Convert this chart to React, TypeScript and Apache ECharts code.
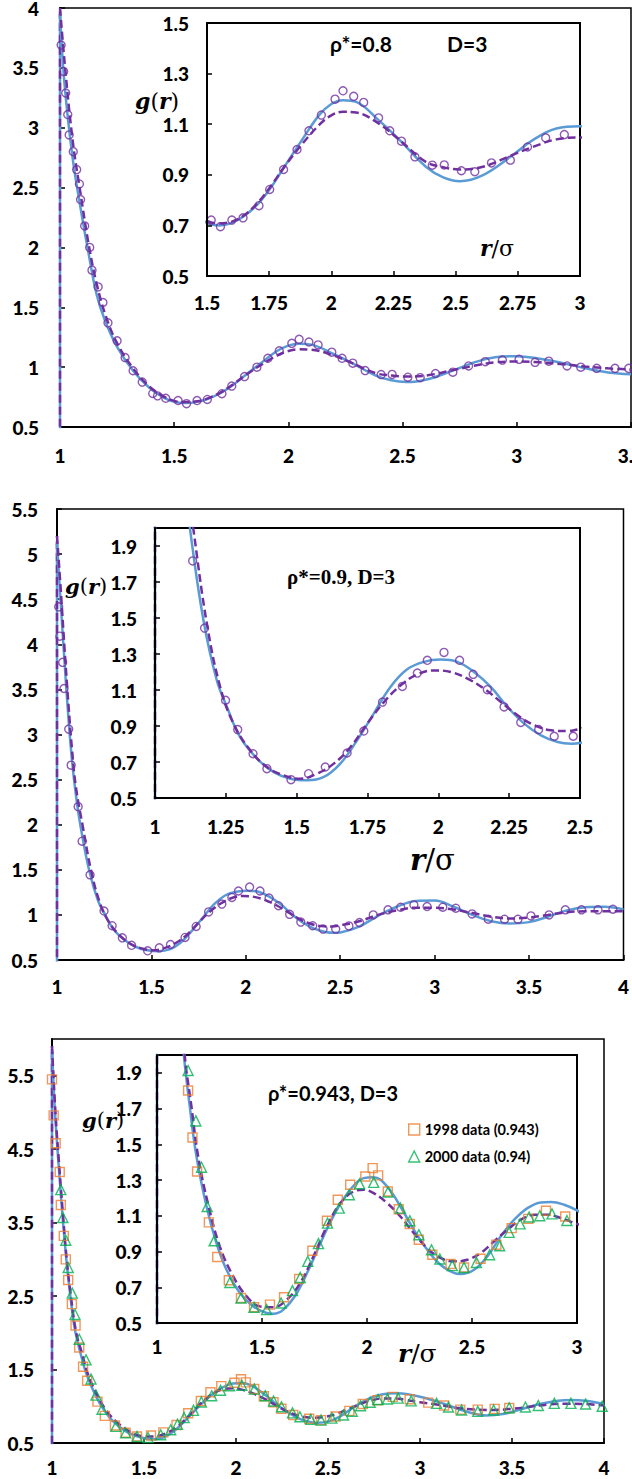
import React, { useEffect, useRef } from "react";
import * as echarts from "echarts";

// ---------- Panel 1 : rho* = 0.8 ----------
const P1_SIM: number[][] = [
  [1.005, 3.69], [1.016, 3.47], [1.025, 3.29], [1.034, 3.11], [1.04, 2.94], [1.058, 2.8], [1.073, 2.65],
  [1.085, 2.53], [1.09, 2.4], [1.108, 2.18], [1.13, 2.0], [1.14, 1.81], [1.167, 1.67], [1.188, 1.54],
  [1.21, 1.37], [1.25, 1.22], [1.285, 1.08], [1.32, 0.97], [1.36, 0.875], [1.406, 0.78], [1.427, 0.76],
  [1.463, 0.74], [1.517, 0.721], [1.554, 0.695], [1.6, 0.721], [1.645, 0.73], [1.709, 0.778], [1.752, 0.842],
  [1.808, 0.921], [1.862, 1.0], [1.91, 1.074], [1.96, 1.136], [2.015, 1.199], [2.047, 1.232], [2.09, 1.21],
  [2.13, 1.186], [2.19, 1.125], [2.235, 1.074], [2.282, 1.033], [2.336, 0.971], [2.406, 0.938], [2.454, 0.939],
  [2.523, 0.916], [2.577, 0.912], [2.644, 0.947], [2.72, 0.958], [2.789, 1.01], [2.862, 1.046], [2.937, 1.059],
  [3.01, 1.065], [3.08, 1.04], [3.14, 1.05], [3.22, 1.01], [3.28, 1.0], [3.35, 0.99], [3.43, 0.99], [3.49, 0.99],
];
const P1_THEORY: number[][] = [
  [1.0, 3.95], [1.02, 3.36], [1.055, 2.75], [1.09, 2.33], [1.126, 1.94], [1.16, 1.61], [1.197, 1.39], [1.25, 1.17],
  [1.32, 0.97], [1.39, 0.83], [1.45, 0.75], [1.5, 0.71], [1.55, 0.7], [1.6, 0.71], [1.645, 0.734], [1.7, 0.78],
  [1.75, 0.84], [1.81, 0.93], [1.873, 1.024], [1.95, 1.135], [2.0, 1.18], [2.047, 1.195], [2.1, 1.188],
  [2.19, 1.116], [2.275, 1.037], [2.38, 0.932], [2.45, 0.89], [2.517, 0.875], [2.61, 0.899], [2.72, 0.971],
  [2.81, 1.037], [2.905, 1.083], [3.0, 1.092], [3.1, 1.07], [3.2, 1.035], [3.3, 0.99], [3.4, 0.955], [3.5, 0.94],
];
const P1_APPROX: number[][] = [
  [1.0, 4.0], [1.02, 3.55], [1.055, 2.9], [1.09, 2.45], [1.126, 2.02], [1.16, 1.7], [1.2, 1.43], [1.25, 1.2],
  [1.32, 0.99], [1.39, 0.84], [1.45, 0.76], [1.5, 0.718], [1.55, 0.708], [1.6, 0.715], [1.645, 0.737], [1.7, 0.785],
  [1.75, 0.846], [1.81, 0.93], [1.873, 1.01], [1.95, 1.096], [2.0, 1.135], [2.047, 1.149], [2.1, 1.146],
  [2.19, 1.103], [2.275, 1.037], [2.38, 0.951], [2.45, 0.93], [2.517, 0.921], [2.61, 0.932], [2.72, 0.975],
  [2.81, 1.01], [2.905, 1.04], [3.0, 1.047], [3.1, 1.04], [3.2, 1.025], [3.3, 1.005], [3.4, 0.99], [3.5, 0.98],
];

// ---------- Panel 2 : rho* = 0.9 ----------
const P2_SIM: number[][] = [
  [1.009, 4.415], [1.015, 4.09], [1.03, 3.8], [1.037, 3.51], [1.062, 3.06], [1.075, 2.66], [1.112, 2.2],
  [1.133, 1.817], [1.175, 1.444], [1.249, 1.043], [1.292, 0.88], [1.346, 0.746], [1.395, 0.663], [1.48, 0.602],
  [1.542, 0.635], [1.601, 0.672], [1.678, 0.75], [1.737, 0.872], [1.803, 1.033], [1.873, 1.12], [1.926, 1.194],
  [1.961, 1.265], [2.02, 1.309], [2.075, 1.265], [2.123, 1.187], [2.173, 1.102], [2.232, 1.006], [2.291, 0.92],
  [2.354, 0.88], [2.409, 0.843], [2.476, 0.843], [2.546, 0.878], [2.602, 0.915], [2.675, 1.0], [2.753, 1.056],
  [2.82, 1.085], [2.89, 1.111], [2.96, 1.093], [3.043, 1.085], [3.112, 1.074], [3.198, 1.011], [3.284, 0.952],
  [3.37, 0.952], [3.441, 0.952], [3.51, 0.989], [3.606, 1.0], [3.692, 1.056], [3.778, 1.056], [3.865, 1.056],
  [3.944, 1.063],
];
const P2_THEORY: number[][] = [
  [1.0, 5.12], [1.02, 4.45], [1.04, 3.8], [1.06, 3.2], [1.08, 2.7], [1.1, 2.33], [1.124, 1.99], [1.171, 1.487],
  [1.218, 1.154], [1.254, 1.006], [1.3, 0.839], [1.36, 0.719], [1.419, 0.644], [1.478, 0.607], [1.537, 0.598],
  [1.596, 0.617], [1.654, 0.691], [1.713, 0.82], [1.772, 0.969], [1.831, 1.117], [1.89, 1.215], [1.949, 1.256],
  [2.008, 1.269], [2.067, 1.256], [2.126, 1.2], [2.185, 1.117], [2.244, 1.006], [2.303, 0.913], [2.362, 0.848],
  [2.421, 0.811], [2.47, 0.802], [2.5, 0.806], [2.6, 0.87], [2.7, 0.99], [2.8, 1.09], [2.9, 1.155], [3.0, 1.16],
  [3.1, 1.09], [3.2, 1.0], [3.3, 0.93], [3.4, 0.905], [3.5, 0.92], [3.6, 0.98], [3.7, 1.05], [3.8, 1.085],
  [3.9, 1.09], [4.0, 1.06],
];
const P2_APPROX: number[][] = [
  [1.0, 5.2], [1.02, 4.6], [1.04, 3.95], [1.06, 3.35], [1.08, 2.82], [1.1, 2.42], [1.136, 1.987], [1.183, 1.469],
  [1.23, 1.117], [1.277, 0.913], [1.336, 0.765], [1.395, 0.672], [1.454, 0.626], [1.513, 0.607], [1.572, 0.635],
  [1.631, 0.691], [1.69, 0.783], [1.749, 0.913], [1.808, 1.033], [1.867, 1.126], [1.926, 1.187], [1.985, 1.209],
  [2.044, 1.2], [2.103, 1.163], [2.162, 1.107], [2.221, 1.033], [2.28, 0.959], [2.339, 0.904], [2.398, 0.876],
  [2.456, 0.872], [2.5, 0.885], [2.6, 0.93], [2.7, 1.0], [2.8, 1.05], [2.9, 1.08], [3.0, 1.08], [3.1, 1.06],
  [3.2, 1.02], [3.3, 0.98], [3.4, 0.96], [3.5, 0.97], [3.6, 1.0], [3.7, 1.03], [3.8, 1.04], [3.9, 1.04], [4.0, 1.04],
];

// ---------- Panel 3 : rho* = 0.943 ----------
const P3_DATA_1998: number[][] = [
  [1.0, 5.45], [1.009, 4.96], [1.02, 4.58], [1.042, 4.19], [1.048, 3.74], [1.064, 3.32], [1.075, 3.0],
  [1.088, 2.72], [1.108, 2.39], [1.128, 2.1], [1.148, 1.801], [1.169, 1.538], [1.191, 1.348], [1.247, 1.063],
  [1.287, 0.869], [1.342, 0.739], [1.4, 0.64], [1.462, 0.588], [1.538, 0.603], [1.605, 0.644], [1.677, 0.746],
  [1.74, 0.904], [1.809, 1.072], [1.861, 1.19], [1.92, 1.274], [1.992, 1.32], [2.027, 1.367], [2.053, 1.326],
  [2.099, 1.236], [2.151, 1.137], [2.204, 1.054], [2.247, 0.966], [2.311, 0.882], [2.398, 0.83], [2.462, 0.811],
  [2.541, 0.86], [2.616, 0.938], [2.689, 1.031], [2.768, 1.083], [2.852, 1.128], [2.944, 1.096], [3.045, 1.05],
  [3.131, 1.01], [3.219, 0.955], [3.314, 0.955], [3.406, 0.964], [3.485, 0.977],
];
const P3_DATA_2000: number[][] = [
  [1.048, 3.95], [1.059, 3.57], [1.075, 3.26], [1.088, 2.89], [1.11, 2.54], [1.125, 2.25], [1.148, 1.913],
  [1.185, 1.631], [1.212, 1.372], [1.239, 1.152], [1.272, 0.96], [1.347, 0.727], [1.4, 0.64], [1.462, 0.588],
  [1.522, 0.575], [1.591, 0.612], [1.645, 0.681], [1.682, 0.755], [1.718, 0.845], [1.769, 0.944], [1.812, 1.059],
  [1.868, 1.143], [1.916, 1.218], [1.965, 1.279], [2.032, 1.287], [2.1, 1.233], [2.159, 1.143], [2.204, 1.072],
  [2.247, 0.994], [2.307, 0.91], [2.347, 0.858], [2.406, 0.821], [2.462, 0.811], [2.521, 0.839], [2.584, 0.882],
  [2.632, 0.932], [2.677, 1.007], [2.729, 1.055], [2.772, 1.093], [2.823, 1.1], [2.881, 1.111], [2.952, 1.074],
  [3.09, 1.04], [3.155, 0.99], [3.226, 0.95], [3.314, 0.93], [3.4, 0.95], [3.485, 0.98], [3.573, 0.99],
  [3.643, 1.01], [3.73, 1.04], [3.82, 1.04], [3.9, 1.03], [3.99, 1.0],
];
const P3_THEORY: number[][] = [
  [1.0, 5.86], [1.01, 5.3], [1.02, 4.85], [1.04, 4.15], [1.06, 3.5], [1.08, 2.95], [1.1, 2.5], [1.124, 2.05],
  [1.156, 1.712], [1.188, 1.432], [1.236, 1.152], [1.283, 0.947], [1.331, 0.798], [1.395, 0.668], [1.459, 0.593],
  [1.522, 0.556], [1.554, 0.552], [1.602, 0.575], [1.666, 0.668], [1.729, 0.817], [1.793, 0.985], [1.857, 1.134],
  [1.92, 1.246], [1.984, 1.311], [2.032, 1.316], [2.096, 1.264], [2.159, 1.152], [2.223, 1.022], [2.287, 0.91],
  [2.35, 0.826], [2.414, 0.78], [2.446, 0.774], [2.51, 0.798], [2.573, 0.873], [2.637, 0.985], [2.701, 1.078],
  [2.764, 1.143], [2.828, 1.175], [2.876, 1.177], [2.939, 1.162], [3.0, 1.13], [3.1, 1.06], [3.2, 0.97],
  [3.3, 0.895], [3.36, 0.875], [3.45, 0.895], [3.55, 0.96], [3.65, 1.03], [3.75, 1.075], [3.82, 1.085],
  [3.9, 1.075], [4.0, 1.03],
];
const P3_APPROX: number[][] = [
  [1.0, 5.9], [1.02, 4.95], [1.04, 4.25], [1.06, 3.6], [1.08, 3.0], [1.1, 2.55], [1.132, 2.0], [1.164, 1.712],
  [1.196, 1.432], [1.244, 1.162], [1.299, 0.929], [1.363, 0.761], [1.427, 0.649], [1.49, 0.593], [1.554, 0.588],
  [1.618, 0.63], [1.682, 0.724], [1.745, 0.873], [1.809, 1.041], [1.873, 1.171], [1.936, 1.236], [1.984, 1.246],
  [2.032, 1.227], [2.096, 1.171], [2.159, 1.096], [2.223, 1.003], [2.287, 0.919], [2.35, 0.864], [2.414, 0.845],
  [2.478, 0.854], [2.541, 0.891], [2.605, 0.957], [2.669, 1.022], [2.732, 1.078], [2.796, 1.106], [2.86, 1.106],
  [2.924, 1.087], [3.0, 1.055], [3.1, 1.02], [3.2, 0.98], [3.3, 0.955], [3.4, 0.95], [3.5, 0.965], [3.6, 0.995],
  [3.7, 1.025], [3.8, 1.035], [3.9, 1.03], [4.0, 1.01],
];

// g(r) = 0 inside the core (r < sigma): the curves rise from this value at contact
const CORE_VALUE = 0;

// axis ranges [min, max, interval] : main & inset for each panel
const P1_MAIN_X = [1, 3.5, 0.5];
const P1_MAIN_Y = [0.5, 4, 0.5];
const P1_INSET_X = [1.5, 3, 0.25];
const P1_INSET_Y = [0.5, 1.5, 0.2];
const P2_MAIN_X = [1, 4, 0.5];
const P2_MAIN_Y = [0.5, 5.5, 0.5];
const P2_INSET_X = [1, 2.5, 0.25];
const P2_INSET_Y = [0.5, 2.0, 0.2];
const P3_MAIN_X = [1, 4, 0.5];
const P3_MAIN_Y = [0.5, 6.0, 1];
const P3_INSET_X = [1, 3, 0.5];
const P3_INSET_Y = [0.5, 2.0, 0.2];

const LEGEND_1998 = "1998 data (0.943)";
const LEGEND_2000 = "2000 data (0.94)";

const BLUE = "#5B9BD5";
const PURPLE = "#7030A0";
const ORANGE = "#ED7D31";
const GREEN = "#00B050";
const SANS = 'Lato, "Open Sans", "DejaVu Sans", sans-serif';
const SERIF = '"DejaVu Serif", "Liberation Serif", serif';
const TICK_FONT = 19;
const TICK_WEIGHT = 900;

function axis(gi: number, r: number[], margin: number, showMax: boolean, z: number, extra: any = {}) {
  return {
    type: "value", gridIndex: gi, min: r[0], max: r[1], interval: r[2], z,
    axisLine: { show: true, onZero: false, lineStyle: { color: "#000", width: 2 } },
    axisTick: { show: true, inside: true, length: 5, lineStyle: { color: "#000", width: 1.5 } },
    axisLabel: { margin, color: "#000", fontFamily: SANS, fontWeight: TICK_WEIGHT, fontSize: TICK_FONT, showMaxLabel: showMax, ...extra },
    splitLine: { show: false },
  };
}

function line(gi: number, data: number[][], color: string, dashed: boolean, z: number) {
  return {
    type: "line", xAxisIndex: gi, yAxisIndex: gi, data, showSymbol: false, symbol: "none",
    smooth: 0.4, z, silent: true,
    lineStyle: { color, width: 2.5, type: dashed ? [8, 4] : "solid" },
  };
}
function wall(gi: number, data: number[][], color: string, dashed: boolean, z: number) {
  const first = data[0];
  return {
    type: "line", xAxisIndex: gi, yAxisIndex: gi, showSymbol: false, symbol: "none", z, silent: true,
    data: [[first[0], CORE_VALUE], [first[0], first[1]]],
    lineStyle: { color, width: 2.5, type: dashed ? [8, 4] : "solid" },
  };
}
function scatter(gi: number, data: number[][], symbol: string, size: number, color: string, z: number, name?: string) {
  return {
    type: "scatter", name, xAxisIndex: gi, yAxisIndex: gi, data, symbol, symbolSize: size, z, silent: true,
    itemStyle: { color: "rgba(255,255,255,0)", borderColor: color, borderWidth: 1.4 },
  };
}

function panelSeries(giMain: number, giInset: number, theory: number[][], approx: number[][], scat: any[]) {
  const out: any[] = [];
  [giMain, giInset].forEach((gi, k) => {
    const base = k === 0 ? 2 : 12;
    out.push(wall(gi, theory, BLUE, false, base));
    out.push(wall(gi, approx, PURPLE, true, base + 1));
    out.push(line(gi, theory, BLUE, false, base + 2));
    out.push(line(gi, approx, PURPLE, true, base + 3));
    scat.forEach((s) => out.push(scatter(gi, s.data, s.symbol, s.size, s.color, base + 4, s.name)));
  });
  return out;
}

function txt(x: number, y: number, text: string, font: string) {
  return {
    type: "text", x, y, z: 100,
    style: { text, font, fill: "#000", verticalAlign: "middle", align: "left" },
  };
}
function rich(x: number, y: number, text: string, size: number) {
  return {
    type: "text", x, y, z: 100,
    style: {
      text, verticalAlign: "middle", align: "left",
      rich: {
        i: { fontFamily: SERIF, fontStyle: "italic", fontWeight: "bold", fontSize: size, fill: "#000", color: "#000" },
        n: { fontFamily: SERIF, fontWeight: "normal", fontSize: size, fill: "#000", color: "#000" },
      },
    },
  };
}
const G_OF_R = "{i|g}{n|(}{i|r}{n|)}";
const R_SIGMA = "{i|r}{n|/σ}";

export default function App() {
  const ref = useRef<HTMLDivElement>(null);
  useEffect(() => {
    if (!ref.current) return;
    const chart = echarts.init(ref.current, undefined, { renderer: "svg" });
    const mainGrid = { show: true, borderColor: "#000", borderWidth: 1.5, backgroundColor: "rgba(0,0,0,0)" };
    const insetGrid = { show: true, borderColor: "#000", borderWidth: 2, backgroundColor: "#fff", z: 8 };
    const option: any = {
      animation: false,
      backgroundColor: "#fff",
      grid: [
        { left: 60, top: 8, width: 571, height: 419, ...mainGrid, outerBoundsMode: "none" },
        { left: 207, top: 23, width: 373, height: 253, ...insetGrid },
        { left: 57, top: 509, width: 571, height: 451, ...mainGrid },
        { left: 155, top: 528, width: 425, height: 270, ...insetGrid },
        { left: 52, top: 1039, width: 552, height: 404, ...mainGrid },
        { left: 157, top: 1055, width: 420, height: 268, ...insetGrid },
      ],
      xAxis: [
        axis(0, P1_MAIN_X, 19, true, 1, { alignMaxLabel: "center" }),
        axis(1, P1_INSET_X, 17, true, 20),
        axis(2, P2_MAIN_X, 17, true, 1),
        axis(3, P2_INSET_X, 19, true, 20),
        axis(4, P3_MAIN_X, 15, true, 1),
        axis(5, P3_INSET_X, 14, true, 20),
      ],
      yAxis: [
        axis(0, P1_MAIN_Y, 21, true, 1),
        axis(1, P1_INSET_Y, 18, true, 20),
        axis(2, P2_MAIN_Y, 19, true, 1),
        axis(3, P2_INSET_Y, 18, false, 20),
        axis(4, P3_MAIN_Y, 18, false, 1),
        axis(5, P3_INSET_Y, 15, false, 20),
      ],
      legend: {
        data: [
          { name: LEGEND_1998, icon: "rect", itemStyle: { color: "rgba(255,255,255,0)", borderColor: ORANGE, borderWidth: 1.4 } },
          { name: LEGEND_2000, icon: "triangle", itemStyle: { color: "rgba(255,255,255,0)", borderColor: GREEN, borderWidth: 1.4 } },
        ],
        orient: "vertical", left: 408, top: 1122, itemGap: 12, itemWidth: 11, itemHeight: 11, padding: 0, z: 50,
        selectedMode: false,
        textStyle: { fontFamily: SANS, fontWeight: "bold", fontSize: 14.5, color: "#000" },
      },
      graphic: [
        txt(330, 43, "ρ*=0.8", `bold 21px ${SANS}`),
        txt(447, 43, "D=3", `bold 21px ${SANS}`),
        rich(135, 101, G_OF_R, 22),
        rich(480, 248, R_SIGMA, 22),
        txt(287, 577, "ρ*=0.9, D=3", `bold 21px "Liberation Serif", serif`),
        rich(65, 586, G_OF_R, 21),
        rich(410, 860, R_SIGMA, 29),
        txt(268, 1093, "ρ*=0.943, D=3", `bold 20px ${SANS}`),
        rich(82, 1120, G_OF_R, 21),
        rich(398, 1353, R_SIGMA, 25),
      ],
      series: [
        ...panelSeries(0, 1, P1_THEORY, P1_APPROX, [{ data: P1_SIM, symbol: "circle", size: 8, color: PURPLE }]),
        ...panelSeries(2, 3, P2_THEORY, P2_APPROX, [{ data: P2_SIM, symbol: "circle", size: 8, color: PURPLE }]),
        ...panelSeries(4, 5, P3_THEORY, P3_APPROX, [
          { data: P3_DATA_1998, symbol: "rect", size: 9, color: ORANGE, name: LEGEND_1998 },
          { data: P3_DATA_2000, symbol: "triangle", size: 10, color: GREEN, name: LEGEND_2000 },
        ]),
      ],
    };
    chart.setOption(option);
    return () => chart.dispose();
  }, []);
  return <div ref={ref} style={{ position: "absolute", left: 0, top: 0, width: 632, height: 1479 }} />;
}
